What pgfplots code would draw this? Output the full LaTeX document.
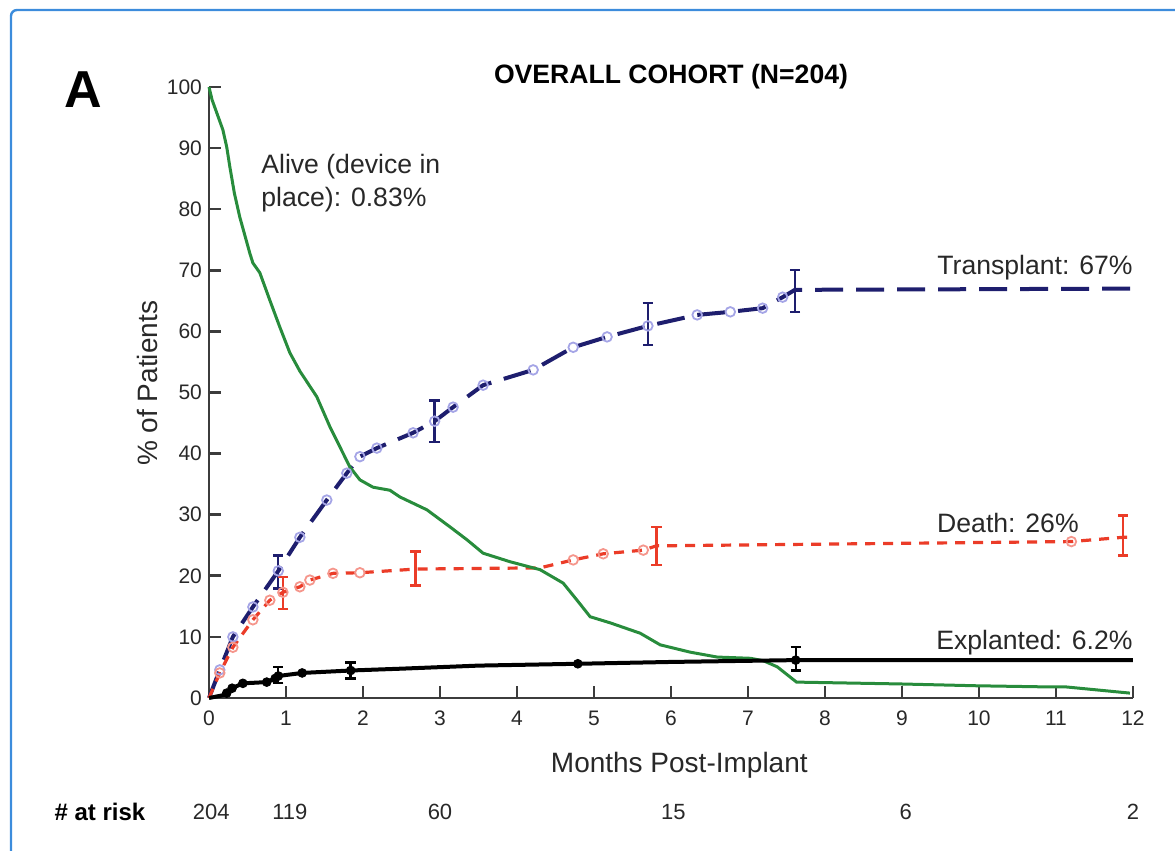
\documentclass[border=0pt]{standalone}
\usepackage{pgfplots}
\pgfplotsset{compat=1.18}
\usepackage{pgfplotstable}
\usepackage{fontspec}
\setmainfont{Liberation Sans}

\definecolor{navy}{RGB}{30,30,110}
\definecolor{lavender}{RGB}{165,165,230}
\definecolor{kmred}{RGB}{235,60,40}
\definecolor{kmpink}{RGB}{245,150,140}
\definecolor{kmgreen}{RGB}{40,140,60}
\definecolor{axiscol}{RGB}{60,60,60}
\definecolor{txt}{RGB}{40,40,40}
\definecolor{frame}{RGB}{60,140,220}

% t = months, y = % of patients, m = 1 where a marker is drawn
\pgfplotstableread{
t y m
0 0 0
0.14 4.6 1
0.31 10.0 1
0.57 14.9 1
0.90 20.8 1
1.18 26.3 1
1.53 32.4 1
1.79 36.8 1
1.96 39.5 1
2.18 40.9 1
2.65 43.4 1
2.93 45.3 1
3.17 47.6 1
3.56 51.2 1
4.21 53.7 1
4.73 57.4 1
5.17 59.1 1
5.70 60.9 1
6.34 62.7 1
6.77 63.2 1
7.19 63.8 1
7.45 65.6 1
7.61 66.8 0
12.0 67.0 0
}\transplant

\pgfplotstableread{
t y e
0.90 20.6 2.7
2.93 45.3 3.4
5.70 61.2 3.4
7.61 66.6 3.4
}\transplanterr

\pgfplotstableread{
t y m
0 0 0
0.14 4.1 1
0.31 8.3 1
0.57 12.8 1
0.79 16.0 1
0.96 17.3 1
1.18 18.2 1
1.31 19.3 1
1.61 20.4 1
1.96 20.5 1
2.68 21.1 0
4.30 21.3 0
4.73 22.6 1
5.12 23.6 1
5.64 24.2 1
5.81 24.9 0
11.2 25.6 1
11.87 26.3 0
12.0 26.3 0
}\death

\pgfplotstableread{
t y e
0.96 17.2 2.6
2.68 21.2 2.8
5.81 24.9 3.1
11.87 26.6 3.3
}\deatherr

\pgfplotstableread{
t y m
0 0 0
0.20 0.5 0
0.23 0.8 1
0.30 1.6 1
0.44 2.4 1
0.75 2.6 1
0.86 3.2 1
0.90 3.6 1
1.21 4.1 1
1.84 4.5 1
2.5 4.8 0
3.5 5.3 0
4.79 5.6 1
6.0 5.9 0
7.62 6.2 1
12.0 6.2 0
}\explant

\pgfplotstableread{
t y e
0.90 3.8 1.3
1.84 4.5 1.3
7.62 6.4 1.9
}\explanterr

\pgfplotstableread{
t y
0 100
0.04 97.9
0.12 95.1
0.18 93.0
0.23 90.2
0.27 87.0
0.33 82.6
0.40 78.7
0.53 72.8
0.57 71.2
0.66 69.6
0.79 65.1
0.92 60.7
1.05 56.5
1.18 53.5
1.40 49.3
1.57 44.4
1.70 41.1
1.83 37.8
1.96 35.7
2.13 34.5
2.35 34.0
2.48 32.9
2.83 30.8
3.13 28.0
3.35 25.9
3.56 23.7
3.91 22.3
4.30 21.0
4.60 18.8
4.78 16.0
4.95 13.3
5.21 12.3
5.60 10.6
5.86 8.7
6.25 7.5
6.60 6.7
7.03 6.5
7.20 6.1
7.38 5.1
7.63 2.6
8.97 2.3
9.97 2.0
10.96 1.8
11.14 1.8
11.96 0.8
}\alive

\begin{document}
\begin{tikzpicture}
\useasboundingbox (-104.5pt,-76.5pt) rectangle (483pt,349pt);
\draw[frame, line width=1.2pt, rounded corners=3pt] (490pt,344pt) -- (-99pt,344pt) -- (-99pt,-85pt);
\begin{axis}[
  at={(0,0)}, anchor=south west,
  scale only axis, width=462pt, height=305.5pt,
  xmin=0, xmax=12, ymin=0, ymax=100,
  axis lines=left, axis line style={-, line width=1.3pt, axiscol},
  tick align=inside, major tick length=6pt,
  tick style={line width=1.3pt, axiscol},
  xtick={0,...,12}, ytick={0,10,...,100},
  /pgf/number format/assume math mode=true,
  tick label style={font=\fontsize{10.5pt}{12pt}\selectfont, text=txt},
  xticklabel style={yshift=-3pt},
  xlabel={Months Post-Implant}, ylabel={\% of Patients},
  label style={font=\fontsize{14pt}{16pt}\selectfont, text=txt},
  xlabel style={at={(axis description cs:0.509,-0.11)}, anchor=center},
  ylabel style={at={(axis description cs:-0.067,0.515)}, anchor=center},
  title={OVERALL COHORT (N=204)},
  title style={at={(axis description cs:0.5,0.998)}, anchor=center,
    font=\bfseries\fontsize{13.3pt}{15pt}\selectfont, text=black},
  clip=false,
]
% censoring marks under the lines
\addplot[only marks, mark=o, mark size=2.4pt, mark options={lavender, line width=0.9pt, fill=white},
  restrict expr to domain={\thisrow{m}}{1:1}] table[x=t, y=y] {\transplant};
\addplot[only marks, mark=o, mark size=2.4pt, mark options={kmpink, line width=0.9pt, fill=white},
  restrict expr to domain={\thisrow{m}}{1:1}] table[x=t, y=y] {\death};

\addplot[navy, line width=2pt, dash pattern=on 14pt off 6.5pt] table[x=t, y=y] {\transplant};
\addplot[kmred, line width=1.6pt, dash pattern=on 5pt off 4pt] table[x=t, y=y] {\death};
\addplot[kmgreen, line width=1.5pt] table[x=t, y=y] {\alive};
\addplot[black, line width=2pt] table[x=t, y=y] {\explant};
\addplot[only marks, mark=*, mark size=2.2pt, mark options={black},
  restrict expr to domain={\thisrow{m}}{1:1}] table[x=t, y=y] {\explant};

% error bars
\addplot[draw=none, mark=none, error bars/.cd, y dir=both, y explicit,
  error bar style={draw=navy, line width=1.2pt},
  error mark options={rotate=90, mark size=2.6pt, line width=1.2pt, draw=navy}]
  table[x=t, y=y, y error=e] {\transplanterr};
\addplot[draw=none, mark=none, error bars/.cd, y dir=both, y explicit,
  error bar style={draw=kmred, line width=1.2pt},
  error mark options={rotate=90, mark size=2.6pt, line width=1.2pt, draw=kmred}]
  table[x=t, y=y, y error=e] {\deatherr};
\addplot[draw=none, mark=none, error bars/.cd, y dir=both, y explicit,
  error bar style={draw=black, line width=1.2pt},
  error mark options={rotate=90, mark size=2.6pt, line width=1.2pt, draw=black}]
  table[x=t, y=y, y error=e] {\explanterr};

% annotations
\node[anchor=west, align=left, inner sep=0pt, text=txt,
  font=\fontsize{13.3pt}{16.5pt}\selectfont] at (axis cs:0.675,84.3)
  {Alive (device in\\place): 0.83\%};
\node[anchor=east, inner sep=0pt, text=txt, font=\fontsize{13.3pt}{16pt}\selectfont]
  at (axis cs:12,70.5) {Transplant: 67\%};
\node[anchor=east, inner sep=0pt, text=txt, font=\fontsize{13.3pt}{16pt}\selectfont]
  at (axis cs:11.3,28.6) {Death: 26\%};
\node[anchor=east, inner sep=0pt, text=txt, font=\fontsize{13.3pt}{16pt}\selectfont]
  at (axis cs:12,9.0) {Explanted: 6.2\%};

\node[font=\bfseries\fontsize{26pt}{30pt}\selectfont, text=black] at (axis cs:-1.636,99.5) {A};

% number at risk
\node[font=\bfseries\fontsize{12pt}{14pt}\selectfont, text=black] at (axis cs:-1.416,-18.66) {\# at risk};
\node[font=\fontsize{11pt}{13pt}\selectfont, text=txt] at (axis cs:0.03,-18.66) {204};
\node[font=\fontsize{11pt}{13pt}\selectfont, text=txt] at (axis cs:1.05,-18.66) {119};
\node[font=\fontsize{11pt}{13pt}\selectfont, text=txt] at (axis cs:3.0,-18.66) {60};
\node[font=\fontsize{11pt}{13pt}\selectfont, text=txt] at (axis cs:6.03,-18.66) {15};
\node[font=\fontsize{11pt}{13pt}\selectfont, text=txt] at (axis cs:9.05,-18.66) {6};
\node[font=\fontsize{11pt}{13pt}\selectfont, text=txt] at (axis cs:12.0,-18.66) {2};
\end{axis}
\end{tikzpicture}
\end{document}
